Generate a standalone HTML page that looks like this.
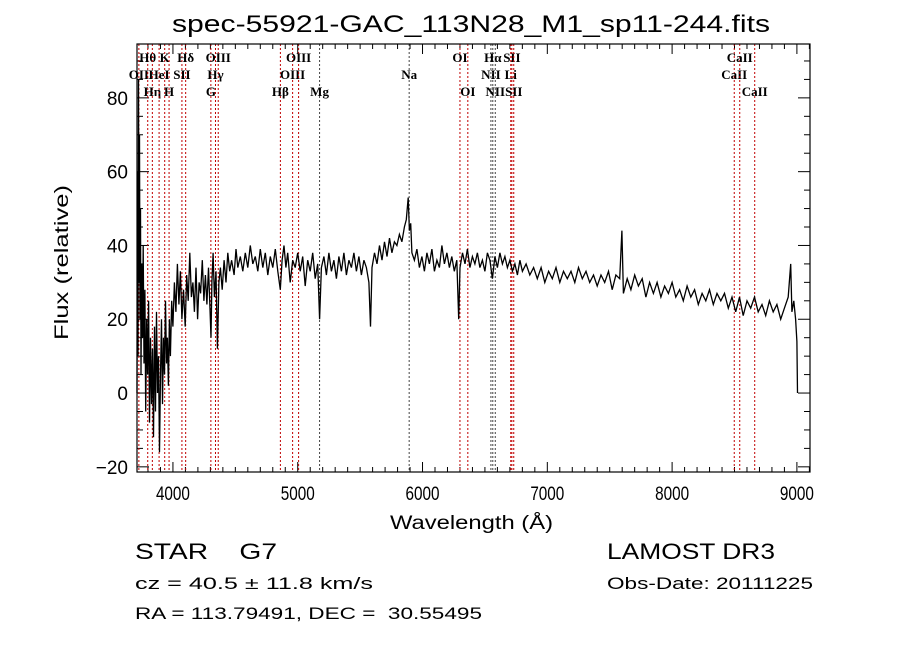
<!DOCTYPE html>
<html><head><meta charset="utf-8"><style>
body{margin:0;background:#fff;}
svg{display:block;font-family:"Liberation Sans",sans-serif;}
.lab{font-family:"Liberation Serif",serif;font-size:13px;font-weight:bold;}
</style></head><body>
<svg id="chart" width="900" height="649" viewBox="0 0 900 649" xmlns="http://www.w3.org/2000/svg">
<rect width="900" height="649" fill="#fff"/>
<text x="172" y="32" font-size="24" textLength="598" lengthAdjust="spacingAndGlyphs">spec-55921-GAC_113N28_M1_sp11-244.fits</text>
<g id="axes"></g>
<g id="lines"></g>
<g id="series"></g>
<rect x="137" y="44" width="673" height="428" fill="none" stroke="#000" stroke-width="1.2"/>
<text transform="translate(68,340) rotate(-90)" font-size="19" textLength="155" lengthAdjust="spacingAndGlyphs">Flux (relative)</text>
<text x="390" y="529" font-size="19" textLength="163" lengthAdjust="spacingAndGlyphs">Wavelength (Å)</text>
<text x="135" y="559" font-size="22" xml:space="preserve" textLength="142" lengthAdjust="spacingAndGlyphs">STAR    G7</text>
<text x="607" y="559" font-size="22" textLength="168" lengthAdjust="spacingAndGlyphs">LAMOST DR3</text>
<text x="135" y="589" font-size="17" textLength="238" lengthAdjust="spacingAndGlyphs">cz = 40.5 ± 11.8 km/s</text>
<text x="607" y="589" font-size="17" textLength="206" lengthAdjust="spacingAndGlyphs">Obs-Date: 20111225</text>
<text x="135" y="619" font-size="17" xml:space="preserve" textLength="347" lengthAdjust="spacingAndGlyphs">RA = 113.79491, DEC =  30.55495</text>
</svg>
<script>
const wl=[3712,3716,3720,3724,3728,3732,3736,3740,3744,3750,3756,3762,3768,3775,3782,3790,3797,3805,3812,3820,3828,3836,3844,3852,3860,3868,3876,3884,3892,3900,3908,3916,3924,3932,3940,3948,3956,3964,3972,3980,3990,4000,4012,4024,4036,4048,4060,4072,4085,4098,4110,4122,4135,4148,4160,4172,4185,4198,4210,4222,4235,4248,4260,4272,4285,4298,4305,4312,4322,4332,4345,4356,4368,4380,4395,4410,4425,4440,4455,4470,4490,4505,4520,4540,4560,4580,4600,4620,4640,4660,4680,4700,4720,4740,4760,4780,4800,4820,4840,4860,4875,4890,4905,4920,4940,4960,4980,5000,5020,5040,5060,5080,5100,5120,5140,5160,5175,5190,5210,5230,5250,5270,5290,5310,5330,5350,5370,5390,5410,5430,5450,5470,5490,5510,5530,5550,5570,5583,5595,5615,5635,5655,5675,5695,5715,5735,5755,5775,5795,5815,5835,5855,5870,5885,5895,5905,5915,5935,5955,5975,5995,6015,6035,6055,6075,6095,6115,6135,6155,6175,6195,6215,6235,6255,6275,6290,6300,6320,6340,6360,6380,6400,6420,6440,6460,6480,6500,6520,6540,6560,6580,6600,6620,6640,6660,6680,6700,6720,6740,6760,6780,6800,6830,6860,6890,6920,6950,6980,7010,7040,7070,7100,7130,7160,7190,7220,7250,7280,7310,7340,7370,7400,7430,7460,7490,7520,7550,7580,7598,7610,7640,7670,7700,7730,7760,7790,7820,7850,7880,7910,7940,7970,8000,8030,8060,8090,8120,8150,8180,8210,8240,8270,8300,8330,8360,8390,8420,8450,8480,8510,8540,8570,8600,8630,8660,8690,8720,8750,8780,8810,8840,8870,8900,8930,8950,8960,8975,8990,9000,9005];
const flux=[0,60,10,85,30,70,20,50,5,35,15,40,8,28,-5,20,5,25,-8,15,-3,12,-12,18,-5,22,0,10,-16,5,20,-3,15,5,25,8,15,2,20,10,25,18,30,22,35,24,33,20,28,18,32,25,38,26,30,22,34,20,30,27,36,25,32,24,34,22,15,30,38,26,33,12,30,34,28,36,30,38,33,36,32,39,34,37,33,38,34,40,35,37,33,39,34,38,32,37,34,39,33,28,36,40,34,38,30,36,34,38,33,37,29,36,33,38,31,35,20,34,37,32,38,33,36,31,37,33,38,32,36,34,38,33,37,32,36,34,30,18,34,38,35,40,36,41,37,42,38,41,40,43,41,45,47,53,44,46,38,36,39,34,37,33,38,35,39,33,36,34,40,35,38,34,37,33,36,20,34,38,35,39,34,37,35,38,34,36,33,38,36,31,37,34,38,35,37,34,36,33,35,32,36,33,35,32,34,31,34,30,33,31,34,30,33,31,33,30,34,31,33,30,32,29,32,30,33,28,32,31,44,27,31,28,32,29,31,26,30,27,30,26,29,27,30,26,28,25,29,26,28,24,27,25,28,24,27,25,27,23,26,22,26,21,25,23,26,22,24,21,25,22,24,20,23,26,35,22,25,20,14,0];
const xTicks=[4000,5000,6000,7000,8000,9000];
const yTicks=[-20,0,20,40,60,80];
const lineNames=["OII","Hθ","Hη","HeI","K","H","SII","Hδ","G","Hγ","OIII","Hβ","OIII","OIII","Mg","Na","OI","OI","NII","Hα","NII","Li","SII","SII","CaII","CaII","CaII"];
const lineWl=[3727,3798,3835,3889,3934,3969,4072,4102,4304,4341,4363,4861,4959,5007,5175,5893,6300,6363,6548,6563,6583,6707,6716,6731,8498,8542,8662];
const lineRow=[1,0,2,1,0,2,1,0,2,1,0,2,1,0,2,1,0,2,1,0,2,1,0,2,1,0,2];
const lineDark=[0,0,0,0,0,0,0,0,0,0,0,0,0,0,1,1,0,0,1,1,1,0,0,0,0,0,0];
const X0=137,X1=810,W0=3712,W1=9105,Y0=44,Y1=472,V0=94.6,V1=-21.4;
const xs=w=>X0+(w-W0)*(X1-X0)/(W1-W0);
const ys=v=>Y0+(V0-v)*(Y1-Y0)/(V0-V1);
const NS="http://www.w3.org/2000/svg";
function mk(t,a,p){const e=document.createElementNS(NS,t);for(const k in a)e.setAttribute(k,a[k]);p.appendChild(e);return e;}
const ax=document.getElementById('axes');
for(let w=3800;w<=9100;w+=100){const x=xs(w);const maj=w%1000===0;const L=maj?10:5;
 const t1=mk('line',{x1:x,x2:x,y1:Y1,y2:Y1-L,stroke:'#000'},ax);
 
 
 const t2=mk('line',{x1:x,x2:x,y1:Y0,y2:Y0+L,stroke:'#000'},ax);
 
 }
xTicks.forEach(w=>{const t=mk('text',{x:xs(w),y:500,'text-anchor':'middle','font-size':19,textLength:34,lengthAdjust:'spacingAndGlyphs'},ax);t.textContent=w;
 
 });
for(let v=-20;v<=90;v+=5){const y=ys(v);const maj=v%20===0;const L=maj?12:6;
 const t1=mk('line',{x1:X0,x2:X0+L,y1:y,y2:y,stroke:'#000'},ax);
 
 
 const t2=mk('line',{x1:X1,x2:X1-L,y1:y,y2:y,stroke:'#000'},ax);
 
 }
yTicks.forEach(v=>{const t=mk('text',{x:128,y:ys(v)+7,'text-anchor':'end','font-size':19},ax);t.textContent=v<0?'\u221220':v;
 
 });
const lg=document.getElementById('lines');
const rowY=[62,79,96];
lineWl.forEach((w,i)=>{const x=xs(w);
 const l=mk('line',{x1:x,x2:x,y1:Y0,y2:Y1,stroke:lineDark[i]?'#444':'#c00000','stroke-width':1,'stroke-dasharray':'2,2'},lg);
 
 
 const t=mk('text',{x:x,y:rowY[lineRow[i]],'text-anchor':'middle',class:'lab'},lg);t.textContent=lineNames[i];
 
 });
const sg=document.getElementById('series');
const p=mk('polyline',{points:wl.map((w,i)=>xs(w).toFixed(1)+','+ys(flux[i]).toFixed(1)).join(' '),fill:'none',stroke:'#000','stroke-width':1.3},sg);


</script>
</body></html>
